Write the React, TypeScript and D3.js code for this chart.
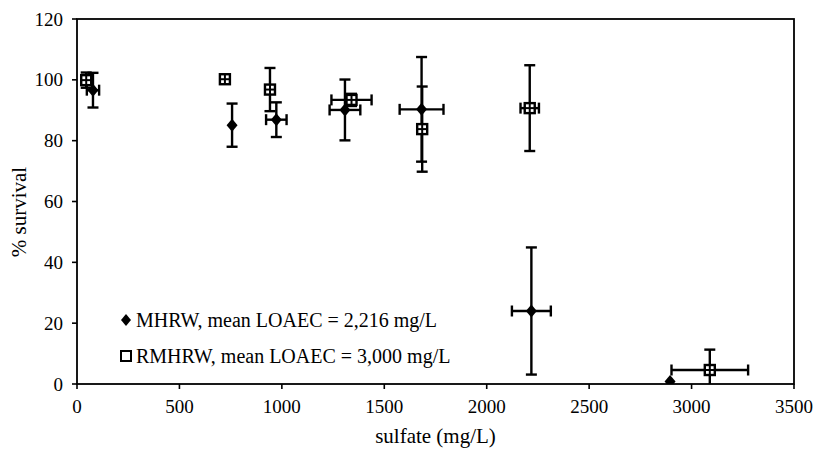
import React from "react";
import * as d3 from "d3";

const mhrwX = [78, 757, 973, 1308, 1682, 2218, 2895];
const mhrwY = [96.6, 85.1, 86.9, 90.1, 90.3, 24.0, 0.8];
const mhrwYErr = [5.7, 7.1, 5.7, 10.0, 17.2, 20.9, 0];
const mhrwXErr = [30, 0, 50, 75, 107, 95, 0];

const rmhrwX = [45, 722, 942, 1340, 1685, 2210, 3089];
const rmhrwY = [99.9, 100.2, 96.8, 93.4, 83.8, 90.7, 4.6];
const rmhrwYErr = [2.5, 0, 7.1, 2, 14, 14.1, 6.7];
const rmhrwXErr = [0, 0, 0, 98, 0, 45, 187];

const xTicks = [0, 500, 1000, 1500, 2000, 2500, 3000, 3500];
const yTicks = [0, 20, 40, 60, 80, 100, 120];

const legendLabels = [
  "MHRW, mean LOAEC = 2,216 mg/L",
  "RMHRW, mean LOAEC = 3,000 mg/L",
];

const W = 815;
const H = 449;
const L = 77, R = 794, T = 19, B = 384;
const font = "'Liberation Serif', 'Times New Roman', serif";

export default function App() {
  const x = d3.scaleLinear().domain([0, 3500]).range([L, R]);
  const y = d3.scaleLinear().domain([0, 120]).range([B, T]);
  const cap = 5.5;
  const sw = 2.4;

  const errorBars = (xs: number[], ys: number[], ye: number[], xe: number[], key: string) =>
    xs.map((xv, i) => {
      const cx = x(xv), cy = y(ys[i]);
      const els: React.ReactNode[] = [];
      if (ye[i] > 0) {
        const y1 = y(ys[i] + ye[i]);
        const y2 = y(ys[i] - ye[i]);
        els.push(<line key="v" x1={cx} x2={cx} y1={y1} y2={y2} />);
        els.push(<line key="vt" x1={cx - cap} x2={cx + cap} y1={y1} y2={y1} />);
        els.push(<line key="vb" x1={cx - cap} x2={cx + cap} y1={y2} y2={y2} />);
      }
      if (xe[i] > 0) {
        const x1 = x(xv - xe[i]);
        const x2 = x(xv + xe[i]);
        els.push(<line key="h" x1={x1} x2={x2} y1={cy} y2={cy} />);
        els.push(<line key="hl" x1={x1} x2={x1} y1={cy - cap} y2={cy + cap} />);
        els.push(<line key="hr" x1={x2} x2={x2} y1={cy - cap} y2={cy + cap} />);
      }
      return <g key={key + i}>{els}</g>;
    });

  const diamond = (cx: number, cy: number, rx: number, ry: number) =>
    `M${cx},${cy - ry}L${cx + rx},${cy}L${cx},${cy + ry}L${cx - rx},${cy}Z`;

  const sq = 10;

  return (
    <svg width={W} height={H} style={{ position: "absolute", left: 0, top: 0, background: "#fff" }}>
      <defs>
        <clipPath id="plot">
          <rect x={L} y={T} width={R - L} height={B - T} />
        </clipPath>
      </defs>
      {/* frame */}
      <rect x={L} y={T} width={R - L} height={B - T} fill="none" stroke="#000" strokeWidth={1.8} />
      {/* y ticks */}
      {yTicks.map((t) => (
        <g key={"yt" + t}>
          <line x1={L - 5} x2={L} y1={y(t)} y2={y(t)} stroke="#000" strokeWidth={1.6} />
          <text x={L - 14} y={y(t)} dy="0.35em" textAnchor="end" fontFamily={font} fontSize={19}>
            {t}
          </text>
        </g>
      ))}
      {/* x ticks */}
      {xTicks.map((t) => (
        <g key={"xt" + t}>
          <line x1={x(t)} x2={x(t)} y1={B} y2={B + 5} stroke="#000" strokeWidth={1.6} />
          <text x={x(t)} y={B + 29} textAnchor="middle" fontFamily={font} fontSize={19}>
            {t}
          </text>
        </g>
      ))}
      <text x={(L + R) / 2} y={443} textAnchor="middle" fontFamily={font} fontSize={21}>
        sulfate (mg/L)
      </text>
      <text
        transform={`translate(26,${212}) rotate(-90)`}
        textAnchor="middle"
        fontFamily={font}
        fontSize={21}
      >
        % survival
      </text>

      <g clipPath="url(#plot)" stroke="#000" strokeWidth={sw} fill="none">
        {errorBars(rmhrwX, rmhrwY, rmhrwYErr, rmhrwXErr, "r")}
        {errorBars(mhrwX, mhrwY, mhrwYErr, mhrwXErr, "m")}
        {rmhrwX.map((xv, i) => {
          const cx = x(xv), cy = y(rmhrwY[i]);
          return (
            <g key={"sq" + i}>
              <rect x={cx - sq / 2} y={cy - sq / 2} width={sq} height={sq} fill="#fff" stroke="#000" strokeWidth={2.4} />
              <line x1={cx} x2={cx} y1={cy - sq / 2} y2={cy + sq / 2} strokeWidth={2} />
              <line x1={cx - sq / 2} x2={cx + sq / 2} y1={cy} y2={cy} strokeWidth={2} />
            </g>
          );
        })}
        {mhrwX.map((xv, i) => (
          <path key={"dm" + i} d={diamond(x(xv), y(mhrwY[i]), 5.5, 6.5)} fill="#000" stroke="none" />
        ))}
      </g>

      {/* legend */}
      <path d={diamond(126, 320, 5, 6)} fill="#000" />
      <text x={136} y={320} dy="0.35em" fontFamily={font} fontSize={20}>
        {legendLabels[0]}
      </text>
      <rect x={121} y={351} width={10} height={10} fill="#fff" stroke="#000" strokeWidth={2} />
      <text x={136} y={356} dy="0.35em" fontFamily={font} fontSize={20}>
        {legendLabels[1]}
      </text>
    </svg>
  );
}
